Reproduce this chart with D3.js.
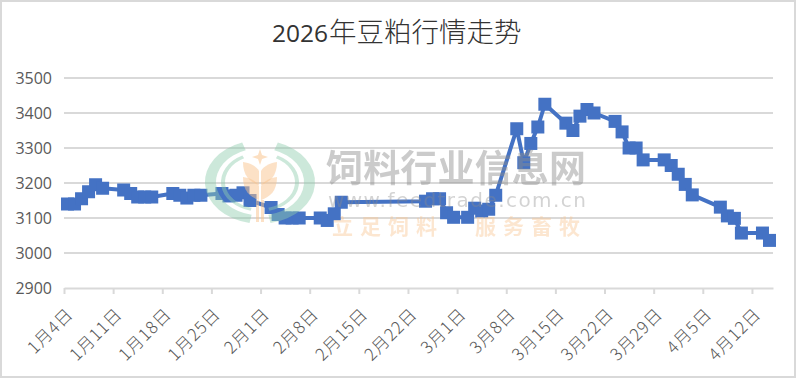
<!DOCTYPE html>
<html>
<head>
<meta charset="utf-8">
<script src="https://cdn.jsdelivr.net/npm/d3@7"></script>
<style>
  html, body { margin: 0; padding: 0; background: #fff; }
  svg { display: block; }
</style>
</head>
<body>
<div id="chart"></div>
<script>
// trading days and soymeal prices
const dates = [
  "2026-01-04","2026-01-05","2026-01-06","2026-01-07","2026-01-08","2026-01-09",
  "2026-01-12","2026-01-13","2026-01-14","2026-01-15","2026-01-16",
  "2026-01-19","2026-01-20","2026-01-21","2026-01-22","2026-01-23",
  "2026-01-26","2026-01-27","2026-01-28","2026-01-29","2026-01-30",
  "2026-02-02","2026-02-03","2026-02-04","2026-02-05","2026-02-06",
  "2026-02-09","2026-02-10","2026-02-11","2026-02-12",
  "2026-02-24","2026-02-25","2026-02-26","2026-02-27","2026-02-28",
  "2026-03-02","2026-03-03","2026-03-04","2026-03-05","2026-03-06",
  "2026-03-09","2026-03-10","2026-03-11","2026-03-12","2026-03-13",
  "2026-03-16","2026-03-17","2026-03-18","2026-03-19","2026-03-20",
  "2026-03-23","2026-03-24","2026-03-25","2026-03-26","2026-03-27",
  "2026-03-30","2026-03-31","2026-04-01","2026-04-02","2026-04-03",
  "2026-04-07","2026-04-08","2026-04-09","2026-04-10",
  "2026-04-13","2026-04-14"
];
const prices = [
  3140,3140,3155,3175,3195,3185,
  3180,3170,3160,3160,3160,
  3170,3165,3157,3165,3165,
  3170,3163,3165,3172,3150,
  3130,3110,3100,3100,3100,
  3100,3093,3112,3145,
  3148,3155,3155,3115,3102,
  3102,3128,3120,3125,3165,
  3355,3258,3313,3360,3425,
  3371,3350,3391,3410,3400,
  3376,3346,3300,3300,3266,
  3266,3250,3225,3196,3166,
  3131,3106,3099,3057,
  3057,3036
];
const yTicks = [2900,3000,3100,3200,3300,3400,3500];
const xTickDates = [
  "2026-01-04","2026-01-11","2026-01-18","2026-01-25","2026-02-01","2026-02-08",
  "2026-02-15","2026-02-22","2026-03-01","2026-03-08","2026-03-15","2026-03-22",
  "2026-03-29","2026-04-05","2026-04-12"
];
const titleYear = "2026";
const titleRest = "年豆粕行情走势";
const wmName = "饲料行业信息网";
const wmUrl = "www.feedtrade.com.cn";
const wmSlogan = ["立足饲料", "服务畜牧"];

const width = 796;
const height = 378;
const marginLeft = 64;
const marginRight = 23;
const marginTop = 78;
const marginBottom = 90;
const cjk = "'Noto Sans CJK SC', 'Noto Sans', sans-serif";
const latin = "'Open Sans', sans-serif";
const DAY = 86400000;
const parse = d3.utcParse("%Y-%m-%d");

const rows = dates.map((d, i) => ({ date: parse(d), value: prices[i] }));

const svg = d3.select("#chart").append("svg")
    .attr("width", width)
    .attr("height", height)
    .attr("viewBox", [0, 0, width, height]);

// date axis, each day owns a slot so points sit half a day past the tick
const x = d3.scaleUtc()
    .domain([parse("2026-01-04"), parse("2026-04-15")])
    .range([marginLeft, width - marginRight]);

const y = d3.scaleLinear()
    .domain([2900, 3500])
    .range([height - marginBottom, marginTop]);

const xMid = (d) => x(new Date(+d + DAY / 2));

// outer frame
svg.append("rect")
    .attr("x", 1).attr("y", 1)
    .attr("width", width - 2).attr("height", height - 2)
    .attr("fill", "#fff")
    .attr("stroke", "#d9d9d9")
    .attr("stroke-width", 2);

// title, digits and CJK have different metrics in the original
const title = svg.append("text")
    .attr("x", 272)
    .attr("y", 42)
    .attr("fill", "#333");
title.append("tspan")
    .attr("font-family", latin)
    .attr("font-size", 24.5)
    .text(titleYear);
title.append("tspan")
    .attr("font-family", cjk)
    .attr("font-size", 27.5)
    .attr("font-weight", 300)
    .attr("dx", 1)
    .text(titleRest);

// gridlines
svg.append("g")
    .selectAll("line")
    .data(yTicks.filter((d) => d !== 2900))
    .join("line")
      .attr("x1", marginLeft)
      .attr("x2", width - marginRight)
      .attr("y1", (d) => y(d))
      .attr("y2", (d) => y(d))
      .attr("stroke", "#d9d9d9")
      .attr("stroke-width", 2);

// y axis, labels only
svg.append("g")
    .attr("transform", `translate(${marginLeft},0)`)
    .call(d3.axisLeft(y).tickValues(yTicks).tickSize(0).tickPadding(12).tickFormat(d3.format("d")))
    .call(g => g.select(".domain").remove())
    .call(g => g.selectAll("text")
        .attr("font-family", latin)
        .attr("font-size", 16)
        .attr("fill", "#595959"));

// x axis
const fmtDay = (d) => `${d.getUTCMonth() + 1}月${d.getUTCDate()}日`;
svg.append("g")
    .attr("transform", `translate(0,${height - marginBottom})`)
    .call(d3.axisBottom(x).tickValues(xTickDates.map(parse)).tickSize(6).tickSizeOuter(0).tickFormat(fmtDay))
    .call(g => g.select(".domain").attr("stroke", "#d9d9d9").attr("stroke-width", 2))
    .call(g => g.selectAll("line").attr("stroke", "#d9d9d9").attr("stroke-width", 2))
    .call(g => g.selectAll("text")
        .attr("font-family", cjk)
        .attr("font-size", 17)
        .attr("font-weight", 300)
        .attr("letter-spacing", 0.8)
        .attr("fill", "#595959")
        .attr("text-anchor", "end")
        .attr("dy", null)
        .attr("y", 0)
        .attr("transform", "translate(9.5,27.5) rotate(-45)"));

// series
const line = d3.line()
    .x((d) => xMid(d.date))
    .y((d) => y(d.value));

svg.append("path")
    .datum(rows)
    .attr("fill", "none")
    .attr("stroke", "#4472c4")
    .attr("stroke-width", 4)
    .attr("stroke-linejoin", "round")
    .attr("d", line);

const markerSize = 13;
svg.append("g")
    .selectAll("rect")
    .data(rows)
    .join("rect")
      .attr("x", (d) => xMid(d.date) - markerSize / 2)
      .attr("y", (d) => y(d.value) - markerSize / 2)
      .attr("width", markerSize)
      .attr("height", markerSize)
      .attr("fill", "#4472c4");

// watermark sits over the line
svg.append("filter").attr("id", "soft")
  .append("feGaussianBlur").attr("stdDeviation", 0.5);

const wm = svg.append("g")
    .attr("pointer-events", "none")
    .attr("filter", "url(#soft)");

const logo = wm.append("g").attr("transform", "translate(260,182)");
const arc = d3.arc();
const ringArcs = [
  { innerRadius: 44, outerRadius: 55, startAngle: -2.95, endAngle: -0.33 },
  { innerRadius: 44, outerRadius: 55, startAngle: 0.33, endAngle: 2.95 },
  { innerRadius: 35, outerRadius: 39, startAngle: -2.9, endAngle: -0.47 },
  { innerRadius: 35, outerRadius: 39, startAngle: 0.47, endAngle: 2.9 }
];
logo.append("g")
    .attr("transform", "scale(1,0.76)")
    .selectAll("path")
    .data(ringArcs)
    .join("path")
      .attr("d", arc)
      .attr("fill", "#8fcbac")
      .attr("fill-opacity", 0.45);

// wheat ear
const leaf = "M-1,14 C-10,11 -17,5 -17,-9 C-9,-8 -3,-4 -1,0 Z";
logo.append("g").selectAll("path")
    .data([[0, -11, 1], [0, 4, 1], [0, -11, -1], [0, 4, -1]])
    .join("path")
      .attr("d", leaf)
      .attr("transform", (d) => `translate(${d[0]},${d[1]}) scale(${d[2]},1)`)
      .attr("fill", "#f9c48e")
      .attr("fill-opacity", 0.5);
logo.append("path")
    .attr("d", "M0,-33 L2,-27 L8,-25 L2,-23 L0,-17 L-2,-23 L-8,-25 L-2,-27 Z")
    .attr("fill", "#f9c48e")
    .attr("fill-opacity", 0.55);
logo.append("g").selectAll("rect")
    .data([-4, 1])
    .join("rect")
      .attr("x", (d) => d).attr("y", 18).attr("width", 3).attr("height", 22)
      .attr("fill", "#f9c48e").attr("fill-opacity", 0.5);

wm.append("text")
    .attr("x", 326).attr("y", 182)
    .attr("font-family", cjk)
    .attr("font-size", 37)
    .attr("font-weight", 700)
    .attr("textLength", 260)
    .attr("fill", "#8c8c8c")
    .attr("fill-opacity", 0.45)
    .text(wmName);

wm.append("text")
    .attr("x", 328).attr("y", 207)
    .attr("font-family", "'DejaVu Sans', sans-serif")
    .attr("font-size", 20)
    .attr("textLength", 258)
    .attr("fill", "#8c8c8c")
    .attr("fill-opacity", 0.38)
    .text(wmUrl);

wm.append("g").selectAll("text")
    .data(wmSlogan)
    .join("text")
      .attr("x", (d, i) => (i === 0 ? 332 : 475))
      .attr("y", 234)
      .attr("font-family", cjk)
      .attr("font-size", 21)
      .attr("font-weight", 700)
      .attr("letter-spacing", 7)
      .attr("fill", "#f9c48e")
      .attr("fill-opacity", 0.42)
      .text((d) => d);
</script>
</body>
</html>
